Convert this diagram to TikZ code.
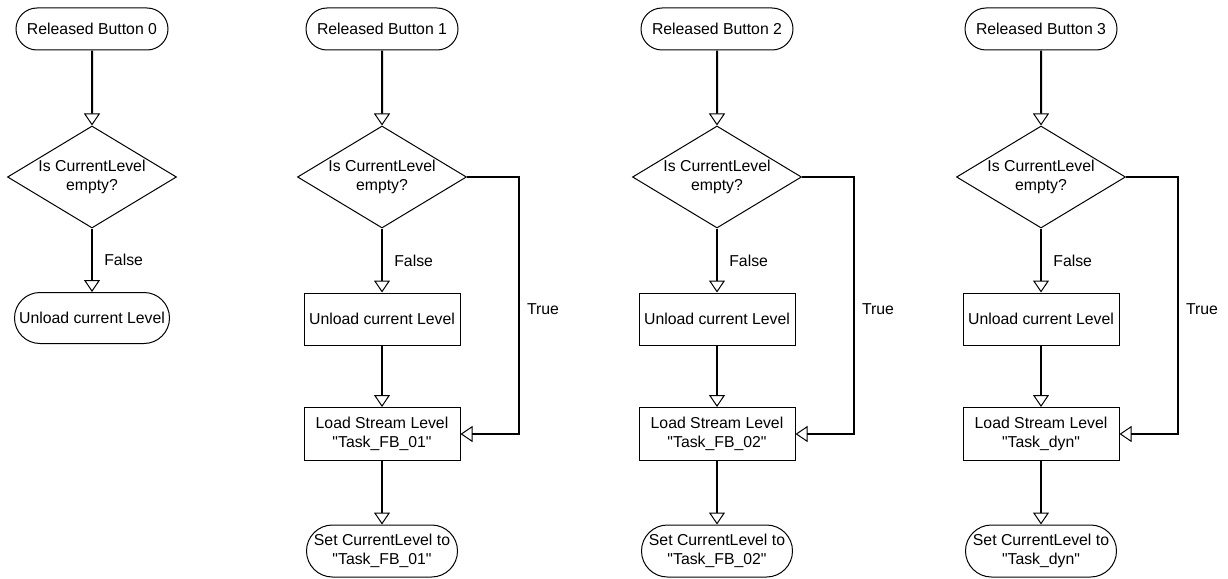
\documentclass[tikz,border=0pt]{standalone}
\usepackage{fontspec}
\newfontfamily\flowfont{Liberation Sans}
\usetikzlibrary{shapes.geometric, shapes.misc, arrows.meta, positioning}

\tikzset{
  terminal/.style={draw, rounded rectangle, line width=1pt, minimum width=156pt, minimum height=42pt, inner sep=2pt, align=center},
  process/.style={draw, rectangle, line width=1pt, minimum width=156pt, minimum height=52pt, inner sep=2pt, align=center},
  decision/.style={draw, diamond, aspect=1.66, line width=1pt, minimum width=169pt, minimum height=102pt, inner sep=0pt, align=center},
  flow/.style={line width=2pt, -{Triangle[open, width=16pt, length=12pt, line width=1pt]}},
  truepath/.style={line width=1.3pt, -{Triangle[open, width=16pt, length=12pt, line width=1pt]}}
}

\begin{document}
\begin{tikzpicture}[x=1pt, y=-1pt, every node/.style={font=\flowfont\fontsize{15.8}{19.5}\selectfont}]

\useasboundingbox (0,0) rectangle (1228,578);

% Button 0: only unload
\node[terminal] (s0) at (92,29) {Released Button 0};
\node[decision] (d0) at (92,177) {Is CurrentLevel\\empty?};
\node[terminal, minimum width=159pt, minimum height=51pt] (u0) at (92,318) {Unload current Level};

\draw[flow] (s0) -- (d0);
\draw[flow] (d0) -- node[right=8pt] {False} (u0);

% Buttons 1 to 3: unload, then load stream level
\foreach \i/\x/\lvl in {1/382/FB\_01, 2/717/FB\_02, 3/1041/dyn}
{
    \node[terminal] (s\i) at (\x,29) {Released Button \i};
    \node[decision] (d\i) at (\x,177) {Is CurrentLevel\\empty?};
    \node[process] (u\i) at (\x,319) {Unload current Level};
    \node[process, minimum height=53pt] (l\i) at (\x,434) {Load Stream Level\\"Task\_\lvl"};
    \node[terminal, minimum width=155pt, minimum height=52pt] (e\i) at (\x,551) {Set CurrentLevel to\\"Task\_\lvl"};

    \draw[flow] (s\i) -- (d\i);
    \draw[flow] (d\i) -- node[right=8pt] {False} (u\i);
    \draw[flow] (u\i) -- (l\i);
    \draw[flow] (l\i) -- (e\i);

    % True branch skips the unload
    \draw[truepath] (d\i.east) -- ++(52,0) |- (l\i.east);
    \node (t\i) at (\x+161,309) {True};
}

\end{tikzpicture}
\end{document}
